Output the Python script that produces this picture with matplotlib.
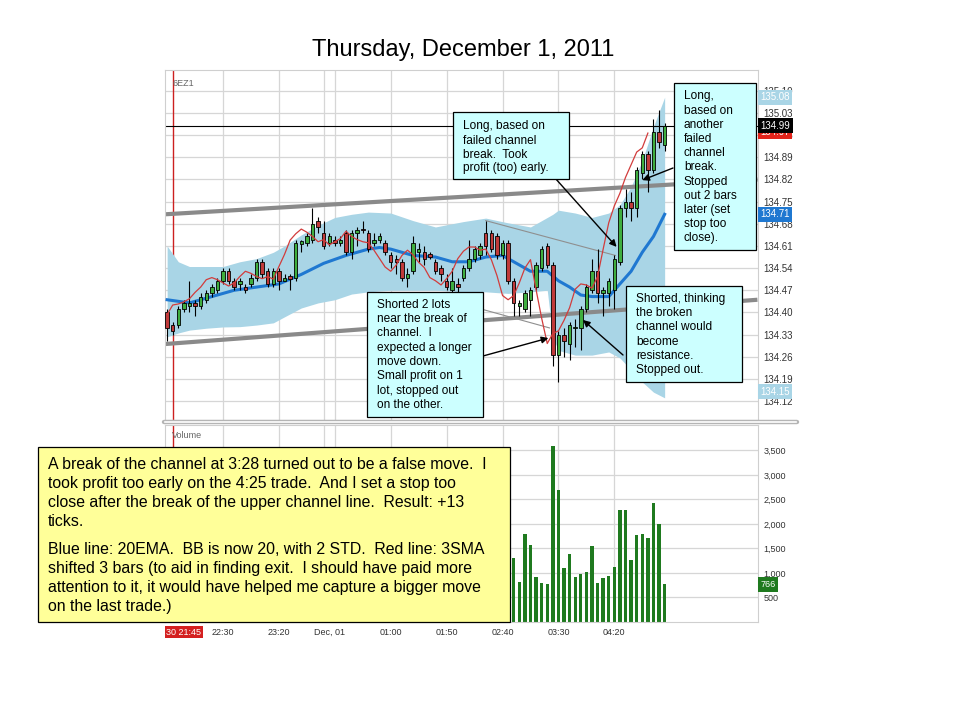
import matplotlib
import matplotlib.pyplot as plt
import numpy as np
import pandas as pd
from matplotlib.lines import Line2D
from matplotlib.patches import Rectangle
from matplotlib.ticker import FixedLocator, FuncFormatter
from matplotlib.transforms import blended_transform_factory

matplotlib.use("Agg")
plt.rcParams["font.family"] = ["Liberation Sans", "DejaVu Sans"]

# 6EZ1, 5-minute bars starting 21:40 (Nov 30); x is minutes after 21:45
opens = [134.40, 134.36, 134.36, 134.41, 134.42, 134.43, 134.42, 134.44, 134.46, 134.47,
         134.50, 134.53, 134.50, 134.49, 134.48, 134.49, 134.51, 134.56, 134.53, 134.49,
         134.53, 134.50, 134.515, 134.51, 134.615, 134.62, 134.63, 134.69, 134.65, 134.62,
         134.63, 134.62, 134.65, 134.59, 134.65, 134.665, 134.65, 134.62, 134.63, 134.62,
         134.58, 134.57, 134.56, 134.51, 134.53, 134.59, 134.59, 134.585, 134.56, 134.54,
         134.50, 134.47, 134.49, 134.51, 134.54, 134.57, 134.58, 134.65, 134.65, 134.64,
         134.58, 134.62, 134.50, 134.42, 134.41, 134.44, 134.48, 134.54, 134.61, 134.55,
         134.265, 134.33, 134.30, 134.35, 134.35, 134.41, 134.47, 134.53, 134.46, 134.46,
         134.47, 134.56, 134.73, 134.75, 134.73, 134.84, 134.90, 134.85, 134.97, 134.93]
highs = [134.41, 134.37, 134.42, 134.44, 134.50, 134.44, 134.46, 134.47, 134.49, 134.51,
         134.54, 134.54, 134.51, 134.51, 134.49, 134.52, 134.57, 134.57, 134.54, 134.54,
         134.54, 134.52, 134.52, 134.63, 134.63, 134.65, 134.73, 134.70, 134.69, 134.65,
         134.64, 134.64, 134.66, 134.66, 134.67, 134.69, 134.66, 134.65, 134.65, 134.63,
         134.59, 134.58, 134.57, 134.54, 134.64, 134.62, 134.61, 134.59, 134.57, 134.55,
         134.52, 134.54, 134.51, 134.55, 134.63, 134.61, 134.62, 134.69, 134.66, 134.65,
         134.63, 134.63, 134.51, 134.44, 134.47, 134.48, 134.56, 134.61, 134.62, 134.56,
         134.34, 134.35, 134.37, 134.38, 134.42, 134.49, 134.57, 134.60, 134.48, 134.51,
         134.58, 134.74, 134.79, 134.78, 134.86, 134.91, 134.91, 135.01, 135.04, 135.00]
lows = [134.31, 134.33, 134.35, 134.40, 134.40, 134.39, 134.41, 134.43, 134.45, 134.46,
        134.49, 134.49, 134.47, 134.47, 134.46, 134.48, 134.50, 134.51, 134.48, 134.48,
        134.47, 134.50, 134.47, 134.50, 134.59, 134.61, 134.62, 134.65, 134.60, 134.61,
        134.61, 134.61, 134.58, 134.57, 134.61, 134.65, 134.59, 134.61, 134.62, 134.58,
        134.54, 134.52, 134.50, 134.48, 134.52, 134.56, 134.55, 134.57, 134.52, 134.50,
        134.47, 134.46, 134.46, 134.50, 134.53, 134.56, 134.57, 134.58, 134.59, 134.57,
        134.57, 134.49, 134.39, 134.39, 134.40, 134.39, 134.47, 134.53, 134.54, 134.23,
        134.18, 134.26, 134.25, 134.29, 134.28, 134.40, 134.46, 134.43, 134.39, 134.42,
        134.41, 134.55, 134.70, 134.69, 134.70, 134.82, 134.78, 134.84, 134.92, 134.91]
closes = [134.35, 134.34, 134.41, 134.43, 134.43, 134.42, 134.45, 134.46, 134.48, 134.50,
          134.53, 134.50, 134.48, 134.50, 134.47, 134.51, 134.56, 134.52, 134.49, 134.53,
          134.50, 134.51, 134.505, 134.62, 134.625, 134.64, 134.68, 134.67, 134.61, 134.64,
          134.62, 134.63, 134.59, 134.65, 134.66, 134.66, 134.60, 134.63, 134.64, 134.59,
          134.56, 134.56, 134.51, 134.52, 134.62, 134.60, 134.57, 134.575, 134.53, 134.52,
          134.48, 134.50, 134.48, 134.54, 134.57, 134.60, 134.61, 134.61, 134.60, 134.58,
          134.62, 134.50, 134.43, 134.43, 134.46, 134.47, 134.55, 134.60, 134.55, 134.265,
          134.33, 134.31, 134.36, 134.355, 134.41, 134.48, 134.53, 134.46, 134.47, 134.50,
          134.57, 134.73, 134.75, 134.73, 134.85, 134.90, 134.85, 134.97, 134.94, 134.99]
volumes = [650, 420, 700, 380, 520, 300, 450, 400, 350, 480,
           560, 420, 330, 300, 280, 350, 620, 480, 420, 460,
           400, 260, 300, 900, 420, 380, 850, 500, 620, 380,
           300, 260, 540, 600, 380, 300, 520, 420, 300, 450,
           520, 480, 650, 520, 900, 560, 480, 300, 620, 500,
           600, 720, 480, 650, 820, 600, 560, 700, 650, 600,
           720, 1100, 1312, 814, 1803, 1581, 922, 801, 781, 3587,
           2692, 1104, 1386, 922, 983, 1023, 1548, 801, 908, 929,
           1131, 2295, 2295, 1265, 1770, 1790, 1716, 2436, 2005, 766]

# 20 EMA (blue) read at some bars
ema_bars = [0, 4, 8, 12, 16, 20, 24, 28, 32, 36, 38, 40, 44, 48, 51, 54, 57, 60,
            63, 65, 68, 70, 72, 74, 76, 79, 81, 83, 85, 87, 89]
ema_20 = [134.44, 134.43, 134.45, 134.47, 134.48, 134.49, 134.52, 134.555, 134.58,
          134.60, 134.605, 134.60, 134.58, 134.575, 134.56, 134.56, 134.575, 134.58,
          134.55, 134.53, 134.53, 134.50, 134.48, 134.455, 134.45, 134.45, 134.49,
          134.53, 134.59, 134.64, 134.71]

# Bollinger band (20, 2) read at some bars
band_bars = [0, 2, 4, 7, 10, 13, 16, 19, 21, 24, 27, 30, 33, 36, 40, 44, 48, 53,
             57, 61, 65, 68, 69, 70, 73, 76, 79, 81, 83, 85, 87, 89]
bb_upper = [134.61, 134.56, 134.545, 134.545, 134.545, 134.56, 134.57, 134.59, 134.61,
            134.645, 134.675, 134.70, 134.71, 134.717, 134.714, 134.69, 134.67, 134.687,
            134.698, 134.683, 134.67, 134.70, 134.71, 134.723, 134.714, 134.70, 134.714,
            134.74, 134.797, 134.88, 134.987, 135.08]
bb_lower = [134.323, 134.335, 134.344, 134.35, 134.354, 134.355, 134.36, 134.367, 134.386,
            134.414, 134.43, 134.44, 134.458, 134.465, 134.47, 134.47, 134.47, 134.465,
            134.465, 134.46, 134.465, 134.47, 134.32, 134.28, 134.265, 134.265, 134.275,
            134.256, 134.218, 134.18, 134.148, 134.13]

# hand-drawn lines (minutes after 21:45, price)
channel_top = ([-7, 523], [134.71, 134.82])
channel_bottom = ([-7, 523], [134.30, 134.44])
thin_top = ([280, 396], [134.69, 134.58])
thin_bottom = ([252, 337], [134.434, 134.351])
last_price = 134.99

time_ticks = [10, 45, 95, 140, 195, 245, 295, 345, 395]
time_labels = ["30 21:45", "22:30", "23:20", "Dec, 01", "01:00", "01:50", "02:40", "03:30", "04:20"]
time_grid = [45, 95, 135, 145, 195, 245, 295, 345, 395]
price_ticks = [round(134.12 + 0.07 * k, 2) for k in range(15)]
volume_ticks = [500, 1000, 1500, 2000, 2500, 3000, 3500]

W, H = 960, 720
fig = plt.figure(figsize=(9.6, 7.2), dpi=100)
fig.patch.set_facecolor("white")


def fx(px):
    return px / W


def fy(py):
    return 1 - py / H


ax = fig.add_axes([fx(165), fy(420), 593 / W, 350 / H])
axv = fig.add_axes([fx(165), fy(622), 593 / W, 197 / H])

bars = np.arange(len(closes))
t = -5 + 5 * bars
o = np.array(opens)
c = np.array(closes)
up = c >= o
grid_c = "#d6d6d6"

for a in (ax, axv):
    a.set_xlim(-6.9, 523.5)
    for s in a.spines.values():
        s.set_color("#cfcfcf")
        s.set_linewidth(0.8)
    for g in time_grid:
        a.axvline(g, color=grid_c, lw=0.9, zorder=0)
    a.axvline(0, color="#cc2020", lw=1.0, zorder=1)
    a.yaxis.tick_right()
    a.tick_params(axis="y", length=0, pad=4, labelsize=7, labelcolor="#333333")

# price panel
ax.set_ylim(134.06, 135.166)
ax.yaxis.set_major_locator(FixedLocator(price_ticks))
ax.yaxis.set_major_formatter(FuncFormatter(lambda v, p: f"{v:.2f}"))
ax.grid(axis="y", color=grid_c, lw=0.9)
ax.set_axisbelow(True)
ax.tick_params(axis="x", length=0, labelbottom=False)

band_t = -5 + 5 * np.array(band_bars)
ax.fill_between(band_t, bb_lower, bb_upper, color="#a9d5e6", lw=0, zorder=1)
ax.plot(channel_top[0], channel_top[1], color="#8a8a8a", lw=3, zorder=2, solid_capstyle="butt")
ax.plot(channel_bottom[0], channel_bottom[1], color="#8a8a8a", lw=3, zorder=2, solid_capstyle="butt")
ax.plot(thin_top[0], thin_top[1], color="#8f8f8f", lw=0.8, zorder=2)
ax.plot(thin_bottom[0], thin_bottom[1], color="#8f8f8f", lw=0.8, zorder=2)
ax.axhline(last_price, color="black", lw=0.8, zorder=2)

ax.plot(-5 + 5 * np.array(ema_bars), ema_20, color="#1f78d1", lw=2.2, zorder=3)
sma3 = pd.Series(closes).rolling(3).mean().shift(-3)
ax.plot(t, sma3, color="#d23c3c", lw=0.9, zorder=5)

ax.vlines(t, lows, highs, color="black", lw=0.8, zorder=4)
body = np.maximum(np.abs(c - o), 0.004)
ax.bar(t, body, bottom=np.minimum(o, c), width=3.1,
       color=np.where(up, "#3fae3f", "#c03a3a"), edgecolor="black", lw=0.6, zorder=4)

ax.text(0.012, 0.975, "6EZ1", transform=ax.transAxes, fontsize=6.5, color="#666666", va="top")

tr = blended_transform_factory(ax.transAxes, ax.transData)
tags = [(135.08, "135.08", "#a9d5e6"), (134.97, "134.97", "#e2231a"),
        (134.99, "134.99", "black"), (134.71, "134.71", "#1f78d1"),
        (134.15, "134.15", "#a9d5e6")]
for val, lab, col in tags:
    ax.text(1.004, val, lab, transform=tr, fontsize=7, color="white", va="center", ha="left",
            clip_on=False, zorder=6,
            bbox=dict(boxstyle="square,pad=0.25", facecolor=col, edgecolor="none"))

# volume panel
axv.set_ylim(0, 4020)
axv.bar(t, volumes, width=3.0, color="#1f7a1f", zorder=2)
axv.yaxis.set_major_locator(FixedLocator(volume_ticks))
axv.yaxis.set_major_formatter(FuncFormatter(lambda v, p: f"{v:,.0f}"))
axv.tick_params(axis="y", labelsize=6.5)
axv.grid(axis="y", color=grid_c, lw=0.9)
axv.set_axisbelow(True)
axv.set_xticks(time_ticks)
axv.set_xticklabels(time_labels)
axv.tick_params(axis="x", length=0, pad=4, labelsize=6.5, labelcolor="#333333")
first = axv.get_xticklabels()[0]
first.set_color("white")
first.set_bbox(dict(facecolor="#d42020", edgecolor="none", pad=1.2))
axv.text(0.012, 0.97, "Volume", transform=axv.transAxes, fontsize=6.5, color="#666666", va="top")
trv = blended_transform_factory(axv.transAxes, axv.transData)
axv.text(1.004, volumes[-1], "766", transform=trv, fontsize=6.5, color="white", va="center",
         ha="left", clip_on=False, zorder=6,
         bbox=dict(boxstyle="square,pad=0.3", facecolor="#1f7a1f", edgecolor="none"))

# splitter between panels
fig.add_artist(Line2D([fx(164), fx(797)], [fy(422), fy(422)], color="#b5b5b5", lw=3.2,
                      solid_capstyle="round"))
fig.add_artist(Line2D([fx(165), fx(796)], [fy(422), fy(422)], color="white", lw=1.2))

fig.text(fx(463.5), fy(50), "Thursday, December 1, 2011", ha="center", va="center", fontsize=17)


def note(box, lines, tx, ty, step, size, face):
    x0, y0, x1, y1 = box
    fig.add_artist(Rectangle((fx(x0), fy(y1)), (x1 - x0) / W, (y1 - y0) / H,
                             transform=fig.transFigure, facecolor=face, edgecolor="black",
                             lw=0.9, zorder=5))
    for k, line in enumerate(lines):
        fig.text(fx(tx), fy(ty + k * step), line, fontsize=size, ha="left",
                 va="center_baseline", zorder=6)


note((453, 112, 569, 179), ["Long, based on", "failed channel", "break.  Took", "profit (too) early."],
     463, 125, 14.0, 8.6, "#ccffff")
note((674, 83, 756, 250), ["Long,", "based on", "another", "failed", "channel", "break.", "Stopped",
                           "out 2 bars", "later (set", "stop too", "close)."],
     684, 95, 14.17, 8.6, "#ccffff")
note((626, 286, 742, 382), ["Shorted, thinking", "the broken", "channel would", "become",
                            "resistance.", "Stopped out."],
     636.5, 297.7, 14.13, 8.6, "#ccffff")
note((367, 292, 483, 417), ["Shorted 2 lots", "near the break of", "channel.  I", "expected a longer",
                            "move down.", "Small profit on 1", "lot, stopped out", "on the other."],
     377, 303.3, 14.29, 8.6, "#ccffff")
note((38, 447, 510, 622),
     ["A break of the channel at 3:28 turned out to be a false move.  I",
      "took profit too early on the 4:25 trade.  And I set a stop too",
      "close after the break of the upper channel line.  Result: +13",
      "ticks."], 48, 463, 19, 11.4, "#ffff99")
for k, line in enumerate(["Blue line: 20EMA.  BB is now 20, with 2 STD.  Red line: 3SMA",
                          "shifted 3 bars (to aid in finding exit.  I should have paid more",
                          "attention to it, it would have helped me capture a bigger move",
                          "on the last trade.)"]):
    fig.text(fx(48), fy(548 + 19 * k), line, fontsize=11.4, ha="left", va="center_baseline", zorder=6)

# arrows: (start in figure pixels from top-left, target in data)
arrows = [((555, 178), (397, 134.607)), ((673, 168), (420, 134.818)),
          ((623, 355), (367, 134.376)), ((483, 356), (336, 134.319))]
for (sx, sy), target in arrows:
    ax.annotate("", xy=target, xycoords="data", xytext=(sx, H - sy), textcoords="figure pixels",
                arrowprops=dict(arrowstyle="-|>", color="black", lw=1.0, mutation_scale=10,
                                shrinkA=0, shrinkB=0), zorder=7)

fig.savefig("out.png", dpi=100)
